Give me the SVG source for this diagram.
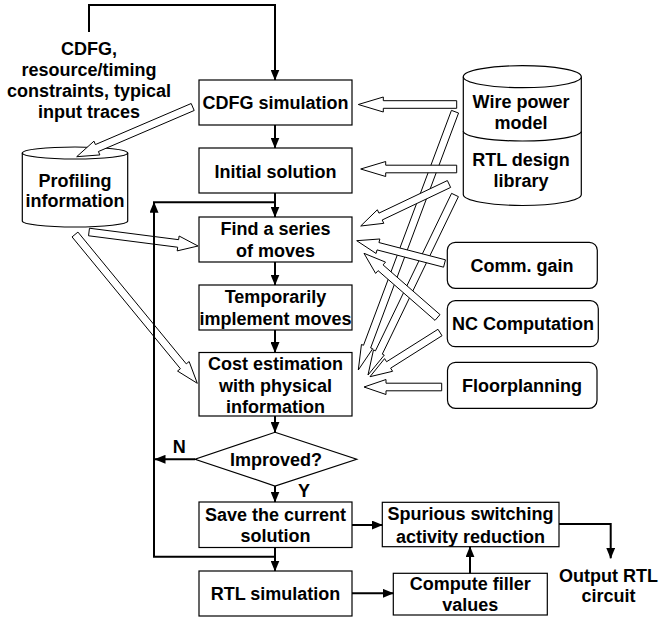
<svg xmlns="http://www.w3.org/2000/svg" width="660" height="620" viewBox="0 0 660 620">
<style>
.t{font-family:"Liberation Sans",Arial,sans-serif;font-weight:bold;font-size:18px;text-anchor:middle;fill:#000}
.box{fill:#fff;stroke:#000;stroke-width:1.2}
.c{fill:none;stroke:#000;stroke-width:2}
.ha{fill:#fff;stroke:#000;stroke-width:1}
</style>
<defs>
<marker id="ah" viewBox="0 0 11 9" markerWidth="11" markerHeight="9" refX="10.5" refY="4.5" orient="auto" markerUnits="userSpaceOnUse">
<path d="M0,0 L11,4.5 L0,9 z" fill="#000"/>
</marker>
</defs>
<rect width="660" height="620" fill="#fff"/>

<g id="inputs">
<text class="t" x="89" y="55">CDFG,</text>
<text class="t" x="89" y="76">resource/timing</text>
<text class="t" x="89" y="97">constraints, typical</text>
<text class="t" x="89" y="118">input traces</text>
</g>

<g id="profiling">
<path class="box" d="M22.3,153 V221 A52.7,6 0 0 0 127.7,221 V153"/>
<ellipse class="box" cx="75" cy="153" rx="52.7" ry="6"/>
<text class="t" x="75" y="186.7">Profiling</text>
<text class="t" x="75" y="207.3">information</text>
</g>

<g id="library">
<path class="box" d="M463.3,76.7 V194.5 A59,11 0 0 0 581.3,194.5 V76.7"/>
<ellipse class="box" cx="522.3" cy="76.7" rx="59" ry="11"/>
<path class="box" fill="none" d="M463.3,131 A59,10 0 0 0 581.3,131"/>
<text class="t" x="521" y="108">Wire power</text>
<text class="t" x="521" y="129">model</text>
<text class="t" x="521" y="166">RTL design</text>
<text class="t" x="521" y="187">library</text>
</g>

<g id="cdfg-sim">
<rect class="box" x="199" y="80" width="153" height="45"/>
<text class="t" x="275.5" y="109">CDFG simulation</text>
</g>
<g id="initial">
<rect class="box" x="199" y="148" width="153" height="45"/>
<text class="t" x="275.5" y="177.5">Initial solution</text>
</g>
<g id="find">
<rect class="box" x="199" y="217" width="153" height="45"/>
<text class="t" x="275.5" y="235">Find a series</text>
<text class="t" x="275.5" y="256.5">of moves</text>
</g>
<g id="temp">
<rect class="box" x="199" y="285" width="153" height="45"/>
<text class="t" x="275.5" y="303">Temporarily</text>
<text class="t" x="275.5" y="325">implement moves</text>
</g>
<g id="cost">
<rect class="box" x="199" y="352.5" width="153" height="63.5"/>
<text class="t" x="275.5" y="370">Cost estimation</text>
<text class="t" x="275.5" y="391.5">with physical</text>
<text class="t" x="275.5" y="412.5">information</text>
</g>
<g id="improved">
<polygon class="box" points="275,432.3 356.7,459.3 275,486 195,459.3"/>
<text class="t" x="276" y="465.7">Improved?</text>
</g>
<g id="save">
<rect class="box" x="199" y="502" width="153" height="45.5"/>
<text class="t" x="275.5" y="520.7">Save the current</text>
<text class="t" x="275.5" y="541.7">solution</text>
</g>
<g id="rtl-sim">
<rect class="box" x="199" y="571" width="153" height="45"/>
<text class="t" x="275.5" y="600">RTL simulation</text>
</g>
<g id="spurious">
<rect class="box" x="382.3" y="502.3" width="176.7" height="44.4"/>
<text class="t" x="470.5" y="520">Spurious switching</text>
<text class="t" x="470.5" y="542.5">activity reduction</text>
</g>
<g id="compute">
<rect class="box" x="393.3" y="573.3" width="154" height="41.7"/>
<text class="t" x="470.3" y="590">Compute filler</text>
<text class="t" x="470.3" y="610.7">values</text>
</g>
<g id="comm">
<rect class="box" x="447.3" y="242.3" width="150" height="46" rx="8"/>
<text class="t" x="522" y="271.8">Comm. gain</text>
</g>
<g id="nc">
<rect class="box" x="447.3" y="300.7" width="151" height="46" rx="8"/>
<text class="t" x="523" y="330.2">NC Computation</text>
</g>
<g id="floor">
<rect class="box" x="447.5" y="362.3" width="149.5" height="46" rx="8"/>
<text class="t" x="522" y="391.8">Floorplanning</text>
</g>
<g id="output">
<text class="t" x="608.5" y="581.7">Output RTL</text>
<text class="t" x="608.5" y="601.7">circuit</text>
</g>

<g id="connectors">
<polygon class="ha" points="451.44,110.37 363.51,345.26 361.45,344.49 358.3,370 372.69,348.69 370.63,347.92 458.56,113.03"/>
<polygon class="ha" points="451.58,193.35 375.46,350.84 373.48,349.88 368,375 384.28,355.10 382.30,354.14 458.42,196.65"/>
<polygon class="ha" points="191.20,103.51 95.42,144.55 93.97,141.15 76.7,156.7 99.87,154.93 98.42,151.53 194.20,110.49"/>
<polygon class="ha" points="88.52,235.77 177.68,247.22 177.20,250.89 198,246 179.12,236.01 178.64,239.68 89.48,228.23"/>
<polygon class="ha" points="72.06,236.91 180.39,368.71 177.54,371.06 197.3,383.3 189.13,361.54 186.27,363.89 77.94,232.09"/>
<polygon class="ha" points="456.7,100.7 383.3,100.7 383.3,97 358.3,104.5 383.3,112 383.3,108.3 456.7,108.3"/>
<polygon class="ha" points="456.7,165.2 385.7,165.2 385.7,161.5 360.7,169 385.7,176.5 385.7,172.8 456.7,172.8"/>
<polygon class="ha" points="447.37,180.57 378.94,213.12 377.35,209.78 360.7,226 383.79,223.32 382.20,219.98 450.63,187.43"/>
<polygon class="ha" points="445.46,259.82 378.95,242.55 379.88,238.97 356.7,240.7 376.10,253.49 377.04,249.91 443.55,267.18"/>
<polygon class="ha" points="440.0,314.64 383.07,264.91 385.50,262.12 364,253.3 375.64,273.42 378.07,270.63 435.0,320.36"/>
<polygon class="ha" points="437.97,329.29 386.57,361.74 384.60,358.61 370,376.7 392.60,371.29 390.63,368.16 442.03,335.71"/>
<polygon class="ha" points="441.7,383.2 386,383.2 386,379.5 364,387 386,394.5 386,390.8 441.7,390.8"/>

<path class="c" d="M89,32 V5 H275 V80" marker-end="url(#ah)"/>
<path class="c" d="M275,125 V148" marker-end="url(#ah)"/>
<path class="c" d="M275,193 V217" marker-end="url(#ah)"/>
<path class="c" d="M275,262 V285" marker-end="url(#ah)"/>
<path class="c" d="M275,330 V352.5" marker-end="url(#ah)"/>
<path class="c" d="M275,416 V432.3" marker-end="url(#ah)"/>
<path class="c" d="M275,486 V502" marker-end="url(#ah)"/>
<path class="c" d="M195,459.3 H155" marker-end="url(#ah)"/>
<path class="c" d="M275,547.5 V556.7 H154 V202.3" marker-end="url(#ah)"/>
<path class="c" d="M153,202.3 H275"/>
<path class="c" d="M275,547.5 V571" marker-end="url(#ah)"/>
<path class="c" d="M352,525 H382.3" marker-end="url(#ah)"/>
<path class="c" d="M352,593.3 H393.3" marker-end="url(#ah)"/>
<path class="c" d="M470,573.3 V546.7" marker-end="url(#ah)"/>
<path class="c" d="M559,524 H610.7 V558.3" marker-end="url(#ah)"/>
</g>

<g id="labels">
<text class="t" x="179.3" y="452.7">N</text>
<text class="t" x="304" y="497.3">Y</text>
</g>
</svg>
